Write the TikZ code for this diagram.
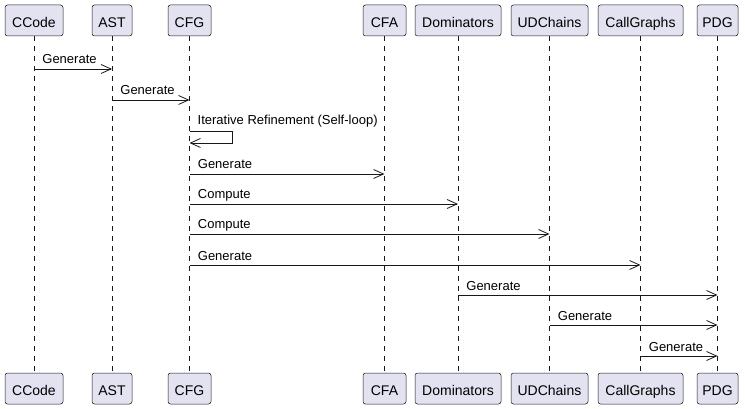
\documentclass[tikz,border=0pt]{standalone}
\usepackage{fontspec}
\setmainfont{Liberation Sans}
\usetikzlibrary{arrows.meta}
\definecolor{partfill}{HTML}{E2E2F0}
\definecolor{partline}{HTML}{181818}
\tikzset{
  x=1pt,y=-1pt,
  part/.style={draw=partline,fill=partfill,line width=0.5pt,rounded corners=2.5pt,
    minimum height=31pt,inner sep=0pt,text height=14pt,text depth=0pt,
    font=\fontsize{14}{16}\selectfont,text=black},
  life/.style={draw=partline,line width=0.5pt,dash pattern=on 5pt off 5pt},
  msg/.style={draw=partline,line width=0.8pt,-{Straight Barb[length=10pt,width=9pt,line width=0.8pt]}},
  lbl/.style={font=\fontsize{13}{15}\selectfont,anchor=base west,inner sep=0pt,text=black}
}
\begin{document}
\begin{tikzpicture}
\useasboundingbox (0,0) rectangle (745,409);
% participants: name, x, width
\foreach \n/\t/\x/\w in {cc/CCode/34/58, ast/AST/112/40, cfg/CFG/189.5/43, cfa/CFA/384.5/43,
  dom/Dominators/458/86, ud/UDChains/549.5/77, cg/CallGraphs/640.5/85, pdg/PDG/717.5/41}{
  \node[part,minimum width=\w pt] (\n T) at (\x,20.5) {\t};
  \node[part,minimum width=\w pt] (\n B) at (\x,388.5) {\t};
  \draw[life] (\n T) -- (\n B);
}
% message rows
\coordinate (r1) at (0,69);
\coordinate (r2) at (0,100);
\coordinate (r3) at (0,131);
\coordinate (r3b) at (0,143);
\coordinate (r4) at (0,174);
\coordinate (r5) at (0,204);
\coordinate (r6) at (0,234);
\coordinate (r7) at (0,265);
\coordinate (r8) at (0,295);
\coordinate (r9) at (0,325);
\coordinate (r10) at (0,356);
\coordinate (loopx) at (232,0);

\draw[msg] (ccT |- r1) -- node[lbl,pos=0,xshift=8pt,yshift=5pt]{Generate} (astT |- r1);
\draw[msg] (astT |- r2) -- node[lbl,pos=0,xshift=8pt,yshift=5pt]{Generate} (cfgT |- r2);
\draw[msg] (cfgT |- r3) -- (loopx |- r3) -- (loopx |- r3b) -- (cfgT |- r3b);
\node[lbl] at ([xshift=8pt,yshift=6pt]cfgT |- r3) {Iterative Refinement (Self-loop)};
\draw[msg] (cfgT |- r4) -- node[lbl,pos=0,xshift=8pt,yshift=5pt]{Generate} (cfaT |- r4);
\draw[msg] (cfgT |- r5) -- node[lbl,pos=0,xshift=8pt,yshift=5pt]{Compute} (domT |- r5);
\draw[msg] (cfgT |- r6) -- node[lbl,pos=0,xshift=8pt,yshift=5pt]{Compute} (udT |- r6);
\draw[msg] (cfgT |- r7) -- node[lbl,pos=0,xshift=8pt,yshift=5pt]{Generate} (cgT |- r7);
\draw[msg] (domT |- r8) -- node[lbl,pos=0,xshift=8pt,yshift=5pt]{Generate} (pdgT |- r8);
\draw[msg] (udT |- r9) -- node[lbl,pos=0,xshift=8pt,yshift=5pt]{Generate} (pdgT |- r9);
\draw[msg] (cgT |- r10) -- node[lbl,pos=0,xshift=8pt,yshift=5pt]{Generate} (pdgT |- r10);
\end{tikzpicture}
\end{document}
